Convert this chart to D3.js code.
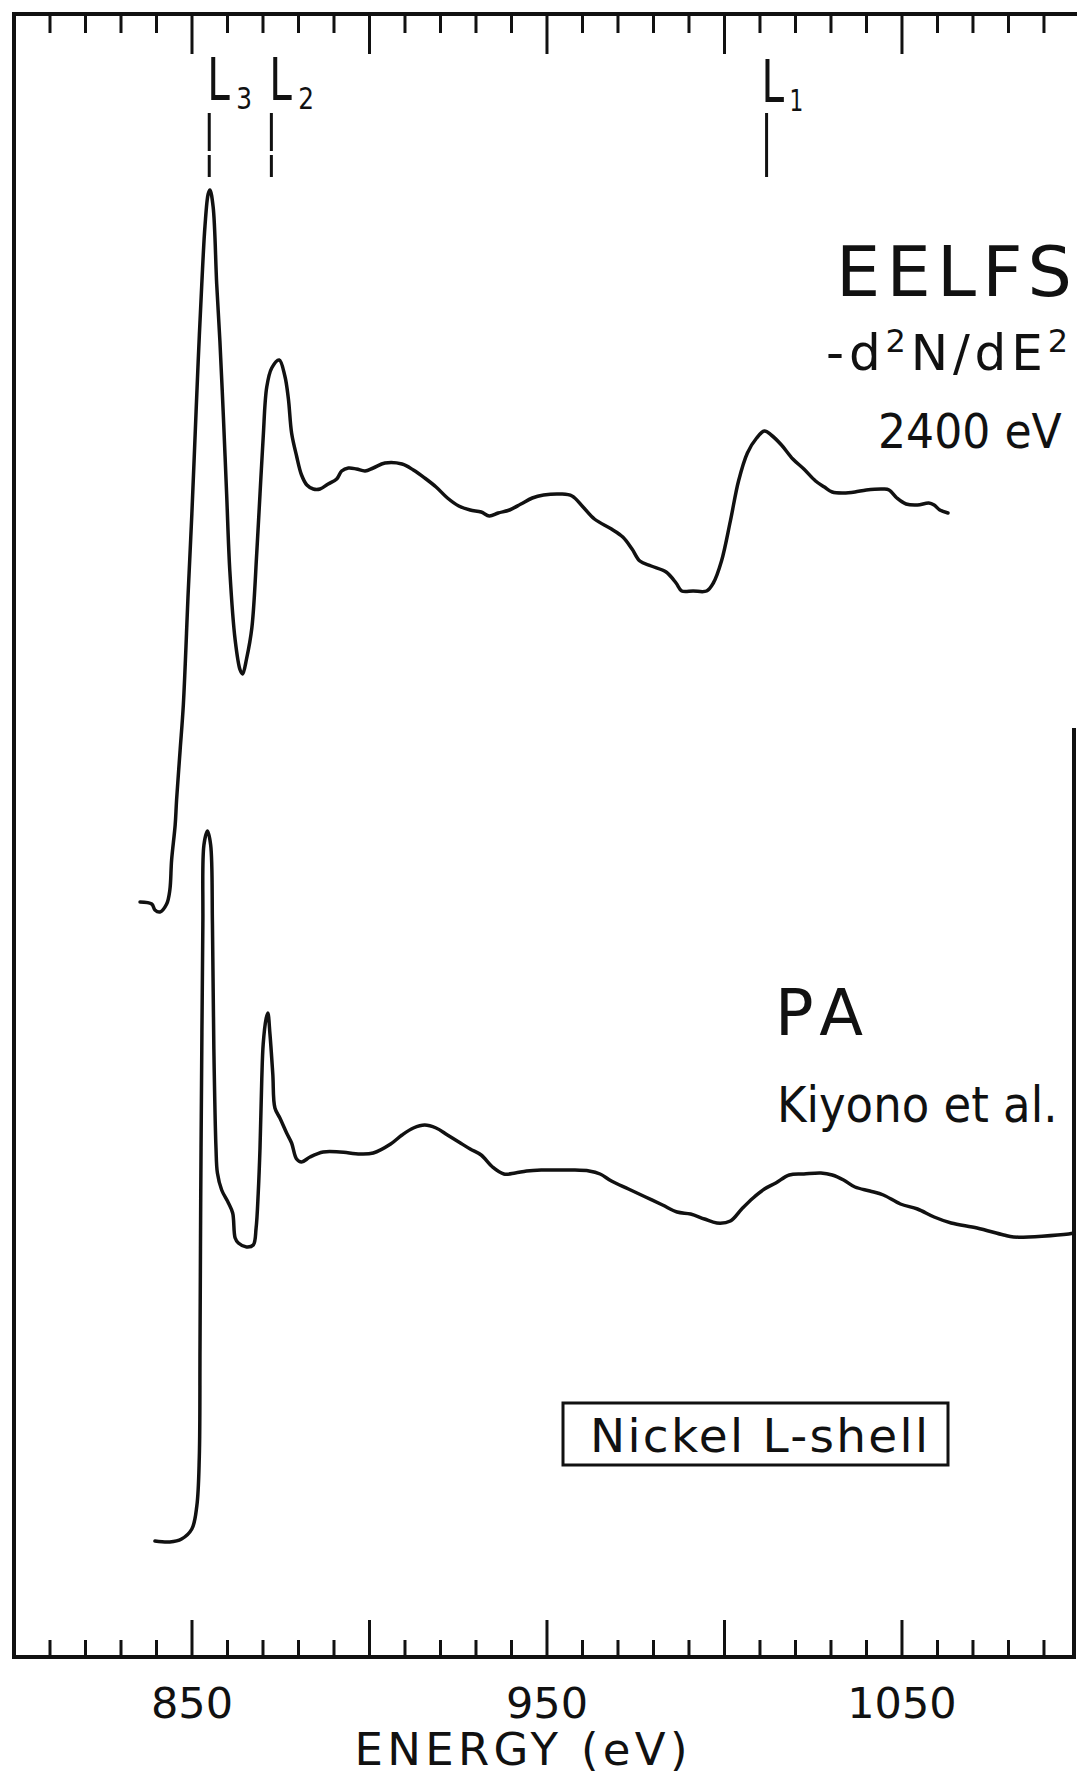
<!DOCTYPE html>
<html>
<head>
<meta charset="utf-8">
<script src="https://cdn.jsdelivr.net/npm/d3@7/dist/d3.min.js"></script>
<style>
  html, body { margin: 0; padding: 0; background: #fff; }
  svg { display: block; }
  text { font-family: "DejaVu Sans", "Liberation Sans", sans-serif; fill: #111; }
</style>
</head>
<body>
<div id="chart"></div>
<script>
// energy in eV, signal in arbitrary units (the two spectra are offset vertically)
const eelfsEnergy = [835.5, 838.8, 839.7, 841.1, 843.0, 843.9, 844.4, 845.4, 845.8,
    846.8, 847.7, 849.1, 850.1, 851.0, 851.9, 852.9, 853.8, 854.7, 855.2,
    856.1, 857.1, 858.0, 859.0, 859.9, 860.8, 862.3, 863.7, 864.4, 865.5,
    867.0, 868.4, 869.3, 870.2, 871.2, 872.6, 874.7, 876.3, 877.3, 878.2,
    879.6, 881.0, 882.5, 884.3, 886.2, 888.5, 890.9, 892.3, 894.2, 896.5,
    898.9, 901.2, 904.5, 909.3, 912.5, 915.7, 918.9, 922.1, 925.3, 928.5,
    931.6, 933.9, 936.4, 939.6, 942.8, 946.0, 949.2, 954.0, 957.2, 960.3,
    963.5, 968.3, 971.5, 974.1, 976.3, 979.5, 983.7, 986.5, 988.1, 991.3,
    995.1, 997.0, 999.3, 1001.8, 1004.1, 1006.6, 1009.2, 1011.4, 1013.3, 1016.2,
    1019.4, 1022.5, 1025.8, 1028.3, 1030.5, 1033.7, 1036.9, 1040.1, 1044.9, 1046.5,
    1048.7, 1051.3, 1054.5, 1057.7, 1059.2, 1060.8, 1063.1];
const eelfsSignal = [75.5, 75.3, 74.7, 74.5, 75.3, 76.7, 79.7, 83.2, 85.7,
    90.7, 95.2, 106.7, 114.3, 122.0, 129.7, 137.3, 143.1, 146.3, 146.7,
    145.0, 137.3, 131.6, 123.9, 116.3, 108.6, 101.7, 98.7, 98.3, 99.8,
    102.9, 110.5, 116.3, 122.0, 127.0, 128.9, 129.7, 128.1, 125.8, 122.4,
    120.1, 118.2, 117.2, 116.8, 116.8, 117.3, 117.8, 118.6, 118.9, 118.8,
    118.6, 118.9, 119.4, 119.3, 118.7, 117.9, 117.0, 115.9, 115.1, 114.7,
    114.5, 114.1, 114.4, 114.7, 115.3, 115.9, 116.2, 116.3, 116.1, 115.0,
    113.8, 112.8, 112.0, 110.8, 109.6, 109.1, 108.5, 107.4, 106.6, 106.6,
    106.6, 107.4, 109.6, 113.6, 117.6, 120.4, 121.9, 122.6, 122.2, 121.2,
    119.8, 118.8, 117.6, 117.0, 116.5, 116.4, 116.5, 116.7, 116.8, 116.7,
    115.9, 115.3, 115.2, 115.4, 115.2, 114.7, 114.4];

const paEnergy = [839.7, 843.9, 847.2, 850.1, 851.5, 852.2, 852.4, 852.6, 852.9, 853.2,
    853.5, 854.5, 855.4, 855.9, 856.3, 856.9, 857.3, 858.5, 860.4, 861.6,
    862.3, 863.2, 865.5, 867.4, 868.2, 868.8, 869.3, 869.8, 870.2, 871.0,
    871.5, 872.1, 872.9, 873.5, 874.9, 876.8, 878.2, 879.6, 881.0, 883.4,
    887.1, 891.8, 897.5, 901.2, 906.1, 909.3, 912.5, 915.7, 918.9, 922.1,
    925.3, 928.5, 931.6, 934.8, 938.0, 941.2, 944.4, 948.5, 952.4, 957.2,
    962.0, 965.1, 968.3, 973.1, 977.9, 982.7, 986.8, 990.6, 994.5, 998.0,
    1001.8, 1005.0, 1008.2, 1011.4, 1014.6, 1018.4, 1022.5, 1027.3, 1030.5, 1033.7,
    1036.9, 1041.1, 1044.9, 1049.7, 1054.5, 1059.2, 1064.0, 1071.3, 1078.8, 1081.6,
    1097.1, 1098.6];
const paSignal = [11.6, 11.5, 11.8, 12.8, 15.1, 20.0, 31.0, 45.9, 60.8, 73.3,
    81.2, 82.6, 81.2, 73.3, 60.8, 50.9, 48.4, 46.7, 45.4, 44.4,
    41.9, 41.4, 41.0, 41.2, 42.9, 46.4, 50.9, 57.8, 61.3, 63.8,
    64.4, 62.3, 58.3, 54.9, 53.9, 52.4, 51.4, 49.8, 49.5, 50.0,
    50.5, 50.5, 50.3, 50.4, 51.3, 52.2, 52.9, 53.2, 52.9, 52.2,
    51.5, 50.8, 50.2, 49.0, 48.3, 48.4, 48.6, 48.7, 48.7, 48.7,
    48.6, 48.3, 47.6, 46.8, 46.0, 45.2, 44.5, 44.3, 43.8, 43.4,
    43.6, 44.8, 45.9, 46.8, 47.4, 48.2, 48.3, 48.4, 48.2, 47.7,
    47.0, 46.6, 46.2, 45.3, 44.8, 44.0, 43.4, 42.9, 42.2, 42.0,
    42.3, 42.4];

// absorption edges marked at the top
const edgeNames = ['3', '2', '1'];
const edgeEnergy = [855, 872.5, 1012];

const tickLabels = [850, 950, 1050];
const majorTicks = [850, 900, 950, 1000, 1050];
const minorTicks = d3.range(810, 1100, 10).filter(d => d % 50 !== 0);

const width = 1077,
    height = 1776,
    frameLeft = 14, frameRight = 1074, frameTop = 14, frameBottom = 1657;

const x = d3.scaleLinear().domain([800, 1098.6]).range([frameLeft, frameRight]);
const y = d3.scaleLinear().domain([0, 164.3]).range([frameBottom, frameTop]);

const svg = d3.select('#chart')
    .append('svg')
    .attr('width', width)
    .attr('height', height)
    .style('background', '#fff');

// frame (the right side only reaches part way up, as in the original)
const frame = svg.append('g')
    .attr('stroke', '#111')
    .attr('stroke-width', 4)
    .attr('stroke-linecap', 'square');
frame.append('line').attr('x1', frameLeft).attr('x2', width).attr('y1', frameTop).attr('y2', frameTop);
frame.append('line').attr('x1', frameLeft).attr('x2', frameRight).attr('y1', frameBottom).attr('y2', frameBottom);
frame.append('line').attr('x1', frameLeft).attr('x2', frameLeft).attr('y1', frameTop).attr('y2', frameBottom);
frame.append('line').attr('x1', frameRight).attr('x2', frameRight).attr('y1', 730).attr('y2', frameBottom);

function tickAxis(axis, yPos) {
    const g = svg.append('g')
        .attr('transform', `translate(0,${yPos})`)
        .call(axis);
    g.select('.domain').remove();
    g.selectAll('.tick line').attr('stroke', '#111').attr('stroke-width', 3);
    return g;
}

// inward ticks on top and bottom
tickAxis(d3.axisTop(x).tickValues(minorTicks).tickSize(-19).tickFormat(''), frameTop);
tickAxis(d3.axisTop(x).tickValues(majorTicks).tickSize(-40).tickFormat(''), frameTop);
tickAxis(d3.axisBottom(x).tickValues(minorTicks).tickSize(-17).tickFormat(''), frameBottom);
tickAxis(d3.axisBottom(x).tickValues(majorTicks).tickSize(-37).tickFormat(''), frameBottom);

const labels = svg.append('g')
    .attr('transform', `translate(0,${frameBottom})`)
    .call(d3.axisBottom(x).tickValues(tickLabels).tickFormat(d3.format('d'))
        .tickSize(0).tickPadding(30));
labels.select('.domain').remove();
labels.attr('font-family', null).attr('font-size', null);
labels.selectAll('text')
    .attr('font-size', 43)
    .attr('fill', '#111');

svg.append('text')
    .attr('x', 521)
    .attr('y', 1765)
    .attr('text-anchor', 'middle')
    .attr('font-size', 45)
    .attr('textLength', 333)
    .attr('lengthAdjust', 'spacing')
    .text('ENERGY (eV)');

// spectra
const line = d3.line()
    .x(d => x(d[0]))
    .y(d => y(d[1]))
    .curve(d3.curveCatmullRom.alpha(0.5));

function drawSpectrum(energy, signal) {
    svg.append('path')
        .datum(energy.map((e, i) => [e, signal[i]]))
        .attr('fill', 'none')
        .attr('stroke', '#111')
        .attr('stroke-width', 3.5)
        .attr('stroke-linejoin', 'round')
        .attr('stroke-linecap', 'round')
        .attr('d', line);
}
drawSpectrum(eelfsEnergy, eelfsSignal);
drawSpectrum(paEnergy, paSignal);

// narrow lettering: squeeze horizontally with a transform
function narrowText(str, tx, ty, size, sx) {
    return svg.append('text')
        .attr('transform', `translate(${tx},${ty}) scale(${sx},1)`)
        .attr('font-size', size)
        .text(str);
}

// edge markers L3, L2 (broken) and L1 (solid)
edgeEnergy.forEach((e, i) => {
    const ex = x(e);
    svg.append('line')
        .attr('x1', ex).attr('x2', ex)
        .attr('y1', 113).attr('y2', 177)
        .attr('stroke', '#111')
        .attr('stroke-width', 3)
        .attr('stroke-dasharray', i < 2 ? '38,4' : null);
    const lx = i < 2 ? ex - 2 : ex - 5;
    const dy = i < 2 ? 0 : 2;
    narrowText('L', lx, 100 + dy, 58, 0.7);
    narrowText(edgeNames[i], lx + (i < 2 ? 29 : 28), 109 + dy, 31, i < 2 ? 0.8 : 0.7);
});

// annotations
svg.append('text')
    .attr('x', 836).attr('y', 296)
    .attr('font-size', 70)
    .attr('textLength', 236).attr('lengthAdjust', 'spacing')
    .text('EELFS');

const deriv = svg.append('text')
    .attr('x', 826).attr('y', 370)
    .attr('font-size', 50)
    .attr('textLength', 242).attr('lengthAdjust', 'spacing');
deriv.append('tspan').text('-d');
deriv.append('tspan').attr('font-size', 32).attr('dy', -18).text('2');
deriv.append('tspan').attr('dy', 18).text('N/dE');
deriv.append('tspan').attr('font-size', 32).attr('dy', -18).text('2');

narrowText('2400 eV', 878, 448, 48, 0.92);

svg.append('text')
    .attr('x', 775).attr('y', 1035)
    .attr('font-size', 64)
    .attr('textLength', 88).attr('lengthAdjust', 'spacing')
    .text('PA');

narrowText('Kiyono et al.', 777, 1122, 50, 0.9);

svg.append('rect')
    .attr('x', 563).attr('y', 1403)
    .attr('width', 385).attr('height', 62)
    .attr('fill', 'none')
    .attr('stroke', '#111')
    .attr('stroke-width', 3);

svg.append('text')
    .attr('x', 590).attr('y', 1452)
    .attr('font-size', 47)
    .attr('textLength', 338).attr('lengthAdjust', 'spacing')
    .text('Nickel  L-shell');
</script>
</body>
</html>
